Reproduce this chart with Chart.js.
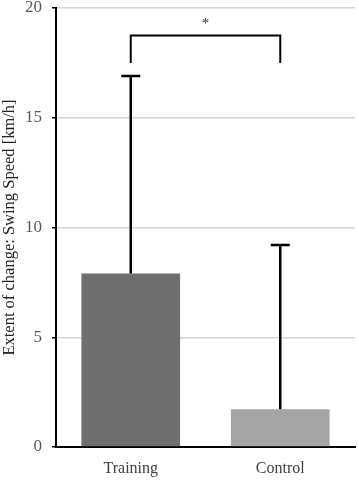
<!DOCTYPE html>
<html>
<head>
<meta charset="utf-8">
<script src="https://cdn.jsdelivr.net/npm/chart.js@4.4.1/dist/chart.umd.min.js"></script>
<style>
  html, body { margin: 0; padding: 0; background: #fff; }
  #wrap { width: 359px; height: 480px; }
</style>
</head>
<body>
<div id="wrap"><canvas id="chart" width="359" height="480"></canvas></div>
<script>
// data
const groups = ['Training', 'Control'];
const means = [7.9, 1.72];
const errors = [9.0, 7.48];      // upper error bar (SD)
const yTicks = [0, 5, 10, 15, 20];
const barColors = ['#6f6f6f', '#a5a5a5'];

// significance bracket: between groups, height and leg bottom in km/h
const bracketPair = [0, 1];
const bracketTop = [18.75];
const bracketLeg = [17.5];
const bracketLabel = '*';

const serif = '"Liberation Serif", "DejaVu Serif", serif';

// draws the upper error bars and the significance bracket
const extrasPlugin = {
    id: 'extras',
    afterDatasetsDraw(chart) {
        const ctx = chart.ctx;
        const x = chart.scales.x;
        const y = chart.scales.y;
        ctx.save();
        ctx.strokeStyle = '#000';
        ctx.lineWidth = 2.5;
        ctx.lineCap = 'butt';

        means.forEach((m, i) => {
            const cx = x.getPixelForValue(i);
            const y0 = y.getPixelForValue(m);
            const y1 = y.getPixelForValue(m + errors[i]);
            ctx.beginPath();
            ctx.moveTo(cx, y0);
            ctx.lineTo(cx, y1);
            ctx.moveTo(cx - 9.5, y1);
            ctx.lineTo(cx + 9.5, y1);
            ctx.stroke();
        });

        // bracket
        const xa = x.getPixelForValue(bracketPair[0]);
        const xb = x.getPixelForValue(bracketPair[1]);
        const yt = y.getPixelForValue(bracketTop[0]);
        const yl = y.getPixelForValue(bracketLeg[0]);
        ctx.lineWidth = 2;
        ctx.beginPath();
        ctx.moveTo(xa, yl);
        ctx.lineTo(xa, yt);
        ctx.lineTo(xb, yt);
        ctx.lineTo(xb, yl);
        ctx.stroke();

        ctx.fillStyle = '#333';
        ctx.font = '15px ' + serif;
        ctx.textAlign = 'center';
        ctx.textBaseline = 'middle';
        ctx.fillText(bracketLabel, (xa + xb) / 2, yt - 11);
        ctx.restore();
    }
};

new Chart(document.getElementById('chart'), {
    type: 'bar',
    data: {
        labels: groups,
        datasets: [{
            data: means,
            backgroundColor: barColors,
            borderWidth: 0,
            categoryPercentage: 1.0,
            barPercentage: 0.66
        }]
    },
    options: {
        responsive: false,
        animation: false,
        layout: { padding: { top: 8, right: 4, left: 0, bottom: 0 } },
        plugins: {
            legend: { display: false },
            tooltip: { enabled: false }
        },
        scales: {
            x: {
                grid: { display: false },
                border: { display: true, color: '#000', width: 2 },
                ticks: {
                    color: '#404040',
                    font: { family: serif, size: 16 },
                    padding: 4
                },
                afterFit: s => {
                    s.height = 33;
                    s.paddingLeft = 0;
                    s.paddingRight = 0;
                }
            },
            y: {
                min: 0,
                max: 20,
                afterBuildTicks: s => { s.ticks = yTicks.map(v => ({ value: v })); },
                grid: {
                    color: '#d4d4d4',
                    lineWidth: 1.5,
                    tickColor: '#000',
                    tickLength: 4,
                    drawTicks: true
                },
                border: { display: true, color: '#000', width: 2 },
                ticks: {
                    color: '#595959',
                    font: { family: serif, size: 17 },
                    padding: 10
                },
                title: {
                    display: true,
                    text: 'Extent of change: Swing Speed [km/h]',
                    color: '#222',
                    font: { family: serif, size: 16.5 },
                    padding: { top: 0, bottom: 0 }
                },
                afterFit: s => {
                    s.width = 56;
                    s.paddingTop = 0;
                    s.paddingBottom = 0;
                }
            }
        }
    },
    plugins: [extrasPlugin]
});
</script>
</body>
</html>
